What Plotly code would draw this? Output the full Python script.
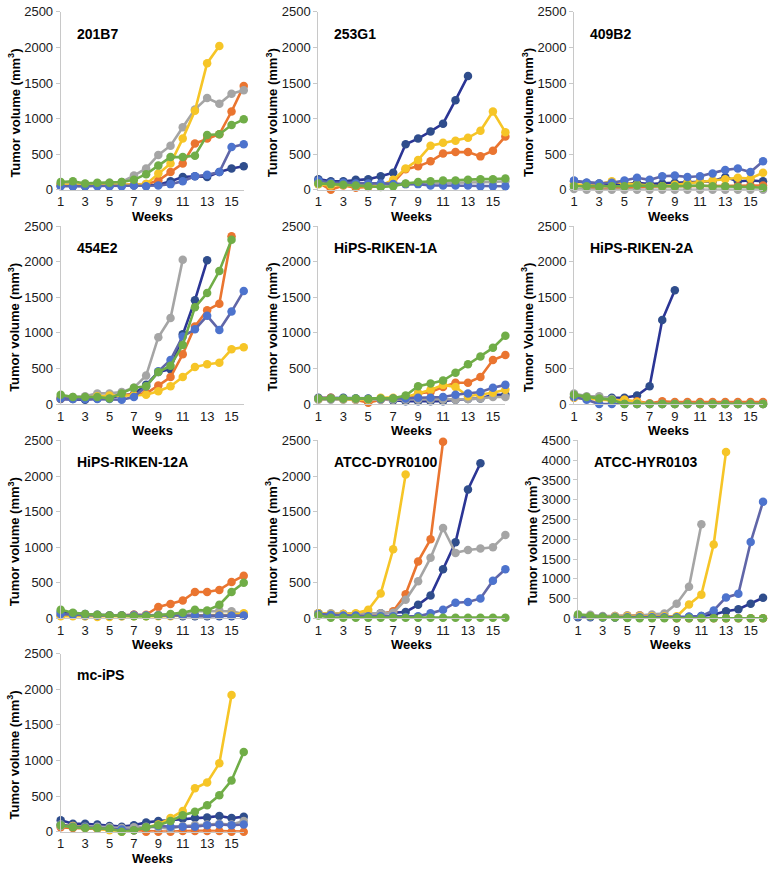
import plotly.graph_objects as go

W, H = 770, 876
FONT = "Liberation Sans, Arial, sans-serif"

weeks = list(range(1, 17))
week_ticks = list(range(1, 16, 2))

panel_names = [
    "201B7", "253G1", "409B2",
    "454E2", "HiPS-RIKEN-1A", "HiPS-RIKEN-2A",
    "HiPS-RIKEN-12A", "ATCC-DYR0100", "ATCC-HYR0103",
    "mc-iPS",
]
y_titles = ["Tumor volume (mm<sup>3</sup>)"] * 10
y_titles[5] = "Tumor Volume (mm<sup>3</sup>)"
y_max = [2500] * 10
y_max[8] = 4500

# one dict per panel: series name -> weekly tumor volume (mm3); short lists = mice removed
p201b7 = {
    "navy":   [60, 50, 50, 60, 55, 60, 60, 60, 70, 120, 180, 190, 180, 250, 300, 330],
    "orange": [70, 80, 60, 70, 70, 70, 70, 80, 130, 250, 370, 650, 720, 780, 1100, 1460],
    "gray":   [90, 100, 80, 90, 100, 110, 200, 300, 490, 620, 880, 1130, 1290, 1210, 1350, 1400],
    "yellow": [70, 70, 60, 70, 70, 70, 70, 80, 230, 370, 720, 1110, 1780, 2020],
    "blue":   [50, 50, 50, 50, 50, 50, 60, 50, 60, 80, 120, 190, 210, 250, 600, 640],
    "green":  [110, 120, 90, 100, 100, 110, 140, 220, 340, 460, 460, 480, 770, 780, 910, 990],
}
p253g1 = {
    "navy":   [150, 120, 120, 140, 150, 190, 240, 640, 720, 820, 930, 1260, 1600],
    "orange": [100, 0, 60, 30, 40, 50, 100, 290, 330, 400, 510, 530, 530, 470, 550, 750],
    "gray":   [80, 70, 70, 70, 60, 60, 70, 80, 90, 90, 100, 100, 100, 110, 110, 120],
    "yellow": [80, 60, 70, 60, 50, 60, 140, 300, 420, 620, 660, 690, 730, 830, 1100, 810],
    "blue":   [130, 100, 100, 90, 90, 90, 80, 80, 80, 60, 60, 60, 60, 50, 50, 50],
    "green":  [90, 80, 70, 60, 50, 40, 50, 90, 110, 120, 130, 130, 140, 150, 150, 160],
}
p409b2 = {
    "navy":   [120, 100, 90, 80, 80, 100, 80, 90, 100, 110, 120, 120, 180, 120, 130, 120],
    "orange": [70, 40, 10, 20, 30, 40, 40, 50, 50, 50, 60, 60, 50, 50, 60, 60],
    "gray":   [10, 0, 0, 0, 0, 0, 0, 0, 0, 0, 0, 0, 0, 0, 0, 0],
    "yellow": [80, 60, 80, 120, 90, 70, 60, 50, 70, 100, 120, 130, 150, 170, 160, 240],
    "blue":   [130, 100, 90, 100, 130, 170, 140, 190, 200, 180, 190, 230, 280, 300, 250, 400],
    "green":  [50, 50, 40, 50, 50, 60, 50, 50, 50, 60, 60, 50, 50, 40, 40, 30],
}
p454e2 = {
    "navy":   [70, 70, 60, 80, 90, 120, 140, 270, 450, 490, 980, 1460, 2020],
    "orange": [80, 80, 80, 100, 110, 120, 130, 150, 260, 380, 700, 1090, 1320, 1410, 2360],
    "gray":   [100, 100, 110, 150, 150, 170, 230, 400, 940, 1210, 2030],
    "yellow": [90, 90, 90, 110, 120, 120, 120, 130, 180, 250, 380, 520, 560, 580, 770, 800],
    "blue":   [80, 70, 70, 70, 70, 60, 100, 250, 460, 620, 950, 1050, 1240, 1040, 1300, 1590],
    "green":  [130, 100, 100, 100, 80, 150, 230, 250, 450, 540, 830, 1360, 1560, 1870, 2310],
}
p_riken1a = {
    "navy":   [90, 90, 90, 80, 80, 70, 50, 40, 40, 40, 40, 60, 70, 80, 130, 130],
    "orange": [80, 90, 70, 60, 20, 60, 70, 70, 150, 170, 240, 300, 300, 380, 620, 690],
    "gray":   [60, 60, 60, 60, 60, 60, 60, 60, 60, 60, 60, 60, 70, 80, 100, 100],
    "yellow": [70, 80, 70, 70, 60, 90, 90, 100, 150, 200, 270, 240, 110, 130, 160, 200],
    "blue":   [80, 80, 80, 80, 70, 70, 80, 80, 90, 90, 100, 130, 150, 170, 230, 270],
    "green":  [80, 80, 80, 80, 70, 80, 80, 120, 250, 290, 330, 440, 560, 670, 790, 960],
}
p_riken2a = {
    "navy":   [100, 90, 90, 90, 90, 120, 250, 1180, 1600],
    "orange": [90, 80, 70, 60, 60, 40, 10, 40, 30, 30, 30, 30, 30, 30, 30, 30],
    "gray":   [150, 110, 110, 70, 40, 0, 0, 0, 0, 0, 0, 0, 0, 0, 0, 0],
    "yellow": [90, 80, 60, 50, 60, 30, 0, 0, 0, 0, 0, 0, 0, 0, 0, 0],
    "blue":   [100, 60, 0, 0, 0, 0, 0, 0, 0, 0, 0, 0, 0, 0, 0, 0],
    "green":  [130, 100, 80, 60, 0, 0, 0, 0, 0, 0, 0, 0, 0, 0, 0, 0],
}
p_riken12a = {
    "navy":   [90, 70, 60, 50, 40, 40, 50, 40, 40, 40, 30, 30, 30, 30, 30, 40],
    "orange": [40, 50, 50, 40, 40, 40, 50, 50, 160, 200, 250, 370, 370, 400, 510, 600],
    "gray":   [40, 40, 30, 30, 30, 30, 40, 40, 50, 50, 60, 100, 100, 110, 100, 60],
    "yellow": [30, 30, 30, 20, 20, 30, 30, 30, 30, 30, 40, 40, 40, 50, 50, 70],
    "blue":   [60, 50, 40, 40, 40, 40, 40, 40, 40, 40, 40, 40, 40, 40, 40, 40],
    "green":  [120, 80, 60, 50, 40, 40, 30, 30, 40, 60, 80, 120, 110, 190, 370, 500],
}
p_dyr0100 = {
    "navy":   [70, 60, 60, 50, 60, 70, 80, 90, 190, 320, 690, 1070, 1810, 2180],
    "orange": [60, 60, 60, 60, 60, 60, 100, 340, 800, 1110, 2480],
    "gray":   [70, 70, 60, 60, 70, 70, 80, 260, 520, 850, 1270, 920, 960, 980, 1000, 1170],
    "yellow": [70, 60, 60, 70, 120, 350, 970, 2020],
    "blue":   [60, 50, 40, 40, 30, 30, 30, 20, 30, 70, 120, 220, 230, 280, 530, 690],
    "green":  [40, 10, 10, 10, 10, 10, 10, 10, 10, 10, 10, 10, 10, 10, 10, 10],
}
p_hyr0103 = {
    "navy":   [30, 30, 20, 20, 20, 30, 30, 30, 30, 40, 60, 100, 180, 230, 370, 520],
    "orange": [60, 50, 40, 60, 70, 80, 60, 20, 0, 0, 0, 0, 0, 0, 0, 0],
    "gray":   [80, 90, 60, 60, 70, 70, 100, 120, 370, 800, 2380],
    "yellow": [60, 50, 40, 40, 50, 50, 50, 50, 50, 350, 600, 1870, 4210],
    "blue":   [50, 40, 40, 30, 30, 30, 30, 30, 30, 40, 60, 200, 530, 620, 1930, 2950],
    "green":  [100, 60, 30, 20, 10, 0, 0, 0, 0, 0, 0, 0, 0, 0, 0, 0],
}
p_mcips = {
    "navy":   [160, 110, 110, 100, 80, 70, 90, 130, 150, 160, 180, 190, 200, 220, 190, 210],
    "orange": [60, 50, 50, 40, 30, 30, 20, 0, 0, 0, 10, 10, 10, 10, 0, 0],
    "gray":   [80, 80, 70, 70, 60, 50, 60, 70, 60, 40, 80, 90, 100, 110, 100, 150],
    "yellow": [100, 80, 60, 40, 20, 0, 20, 60, 100, 190, 290, 610, 690, 960, 1920],
    "blue":   [100, 70, 60, 50, 40, 30, 20, 60, 80, 70, 70, 70, 90, 100, 90, 100],
    "green":  [90, 60, 50, 50, 40, 0, 20, 60, 90, 150, 230, 280, 370, 510, 720, 1120],
}
panels = [p201b7, p253g1, p409b2, p454e2, p_riken1a, p_riken2a,
          p_riken12a, p_dyr0100, p_hyr0103, p_mcips]

# series draw order and colours (line, marker)
STYLE = {
    "navy":   ("#2B3595", "#2F4D8C"),
    "orange": ("#EA7530", "#EA7530"),
    "gray":   ("#A5A5A5", "#A5A5A5"),
    "yellow": ("#F6C527", "#F6C527"),
    "blue":   ("#6066A8", "#4D73CD"),
    "green":  ("#70AD47", "#70AD47"),
}

# layout in pixels
col_left = [57, 316, 573]
col_right = [241, 504, 763]
row_top = [5, 223, 441, 658]
plot_h = 181

fig = go.Figure()
annotations = []
axis_font = dict(family=FONT, size=13, color="#1a1a1a")

for i, (name, data) in enumerate(zip(panel_names, panels)):
    r, c = divmod(i, 3)
    k = i + 1
    xa = "x" if k == 1 else f"x{k}"
    ya = "y" if k == 1 else f"y{k}"
    left = col_left[c] + (4 if name == "ATCC-HYR0103" else 0)
    right = col_right[c]
    top = row_top[r]
    bottom = top + plot_h

    for key in ["navy", "orange", "gray", "yellow", "blue", "green"]:
        vals = data[key]
        lc, mc = STYLE[key]
        fig.add_trace(go.Scatter(
            x=weeks[:len(vals)], y=vals, xaxis=xa, yaxis=ya,
            mode="lines+markers",
            line=dict(color=lc, width=2.6),
            marker=dict(color=mc, size=8.5),
            cliponaxis=False, showlegend=False, hoverinfo="x+y",
        ))

    fig.update_layout({
        f"xaxis{'' if k == 1 else k}": dict(
            domain=[left / W, right / W], anchor=ya,
            range=[1, 16], tickvals=week_ticks, ticks="",
            showline=True, linecolor="#C8C8C8", linewidth=1,
            showgrid=False, zeroline=False, tickfont=axis_font,
        ),
        f"yaxis{'' if k == 1 else k}": dict(
            domain=[1 - bottom / H, 1 - top / H], anchor=xa,
            range=[0, y_max[i]], dtick=500,
            showline=True, linecolor="#C8C8C8", linewidth=1,
            ticks="outside", ticklen=4, tickcolor="#C8C8C8",
            showgrid=False, zeroline=False, tickfont=axis_font,
        ),
    })

    # panel label
    annotations.append(dict(
        x=(left + 14) / W, y=1 - (top + 22) / H, xref="paper", yref="paper",
        text=f"<b>{name}</b>", showarrow=False, xanchor="left", yanchor="middle",
        font=dict(family=FONT, size=14, color="#000"),
    ))
    # axis titles
    annotations.append(dict(
        x=(left + right) / 2 / W, y=1 - (bottom + 27) / H, xref="paper", yref="paper",
        text="<b>Weeks</b>", showarrow=False, xanchor="center", yanchor="middle",
        font=dict(family=FONT, size=13, color="#000"),
    ))
    annotations.append(dict(
        x=(left - 47) / W, y=1 - (top + plot_h / 2 + 12) / H, xref="paper", yref="paper",
        text=f"<b>{y_titles[i]}</b>", showarrow=False, textangle=-90,
        xanchor="center", yanchor="middle",
        font=dict(family=FONT, size=13, color="#000"),
    ))

fig.update_layout(
    width=W, height=H,
    margin=dict(l=0, r=0, t=0, b=0),
    paper_bgcolor="white", plot_bgcolor="white",
    annotations=annotations,
    font=dict(family=FONT),
)

# the page opens at exactly the figure size, so drop the default body margin
fig.write_html(
    "out.html",
    config={"displayModeBar": False},
    post_script="document.body.style.margin='0';",
)
